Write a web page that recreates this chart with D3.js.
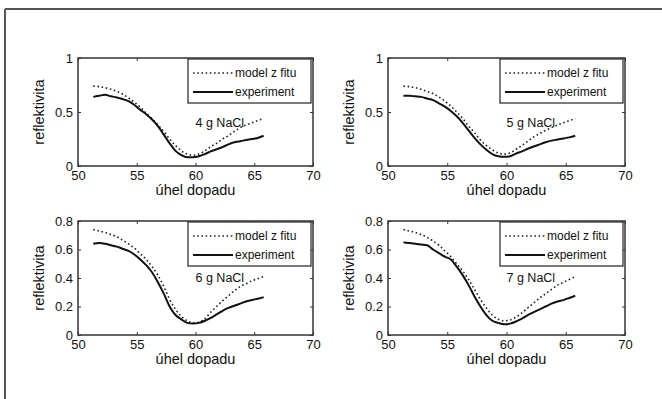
<!DOCTYPE html>
<html>
<head>
<meta charset="utf-8">
<script src="https://cdn.jsdelivr.net/npm/d3@7"></script>
<style>
  body { margin: 0; background: #fff; }
  svg text { font-family: "Liberation Sans", Arial, sans-serif; fill: #111; }
</style>
</head>
<body>
<script>
// angle of incidence (deg), shared by all four panels
var angles = [51.3, 51.8, 52.3, 52.8, 53.3, 53.8, 54.3, 54.8, 55.3, 55.8,
              56.3, 56.8, 57.3, 57.8, 58.3, 58.8, 59.3, 59.8, 60.3, 60.8,
              61.3, 61.8, 62.3, 62.8, 63.3, 63.8, 64.3, 64.8, 65.3, 65.8];

var model4 = [0.74, 0.735, 0.725, 0.71, 0.69, 0.665, 0.63, 0.59, 0.545, 0.49,
              0.44, 0.38, 0.32, 0.25, 0.19, 0.14, 0.11, 0.10, 0.11, 0.14,
              0.18, 0.21, 0.25, 0.28, 0.32, 0.355, 0.38, 0.40, 0.42, 0.44];
var exp4   = [0.64, 0.65, 0.66, 0.645, 0.635, 0.62, 0.60, 0.565, 0.52, 0.48,
              0.43, 0.37, 0.29, 0.21, 0.14, 0.10, 0.08, 0.08, 0.09, 0.11,
              0.135, 0.155, 0.175, 0.20, 0.22, 0.23, 0.24, 0.25, 0.26, 0.28];

var model5 = [0.74, 0.735, 0.725, 0.71, 0.69, 0.67, 0.64, 0.60, 0.555, 0.50,
              0.44, 0.37, 0.31, 0.24, 0.19, 0.15, 0.12, 0.11, 0.12, 0.155,
              0.19, 0.23, 0.27, 0.30, 0.33, 0.355, 0.38, 0.40, 0.42, 0.44];
var exp5   = [0.65, 0.65, 0.645, 0.64, 0.625, 0.61, 0.58, 0.55, 0.51, 0.46,
              0.40, 0.33, 0.26, 0.20, 0.15, 0.11, 0.09, 0.085, 0.09, 0.115,
              0.135, 0.16, 0.18, 0.20, 0.22, 0.235, 0.245, 0.255, 0.265, 0.28];

var model6 = [0.74, 0.73, 0.72, 0.705, 0.69, 0.665, 0.64, 0.61, 0.57, 0.53,
              0.48, 0.42, 0.34, 0.25, 0.18, 0.13, 0.10, 0.085, 0.09, 0.115,
              0.16, 0.20, 0.24, 0.275, 0.31, 0.34, 0.36, 0.38, 0.395, 0.41];
var exp6   = [0.64, 0.645, 0.64, 0.63, 0.62, 0.605, 0.59, 0.565, 0.53, 0.49,
              0.44, 0.37, 0.29, 0.20, 0.14, 0.11, 0.085, 0.08, 0.085, 0.10,
              0.12, 0.145, 0.17, 0.19, 0.205, 0.22, 0.235, 0.245, 0.255, 0.265];

var model7 = [0.74, 0.73, 0.72, 0.705, 0.685, 0.66, 0.63, 0.59, 0.55, 0.50,
              0.45, 0.39, 0.32, 0.25, 0.19, 0.14, 0.11, 0.10, 0.105, 0.125,
              0.155, 0.19, 0.225, 0.26, 0.29, 0.32, 0.35, 0.37, 0.39, 0.41];
var exp7   = [0.65, 0.645, 0.64, 0.635, 0.63, 0.60, 0.575, 0.55, 0.53, 0.48,
              0.42, 0.35, 0.27, 0.20, 0.14, 0.10, 0.085, 0.075, 0.08, 0.095,
              0.115, 0.14, 0.16, 0.18, 0.20, 0.22, 0.235, 0.245, 0.26, 0.275];

var xTicks = [50, 55, 60, 65, 70];
var yTicksTop = [0, 0.5, 1];
var yTicksBottom = [0, 0.2, 0.4, 0.6, 0.8];
var samples = ["4 g NaCl", "5 g NaCl", "6 g NaCl", "7 g NaCl"];
var legendLabels = ["model z fitu", "experiment"];
var xLabel = "úhel dopadu";
var yLabel = "reflektivita";

var width = 662, height = 399;

var svg = d3.select("body").append("svg")
  .attr("width", width)
  .attr("height", height);

// figure frame (only top and left edges are visible in the scan)
svg.append("line").attr("x1", 5).attr("y1", 9).attr("x2", width).attr("y2", 9)
  .attr("stroke", "#555").attr("stroke-width", 2);
svg.append("line").attr("x1", 5).attr("y1", 9).attr("x2", 5).attr("y2", height)
  .attr("stroke", "#555").attr("stroke-width", 2);

var panels = [
  {left: 78,  top: 58,  right: 313, bottom: 166, model: model4, exp: exp4, ymax: 1,   yt: yTicksTop,    fmt: d3.format("")},
  {left: 388, top: 58,  right: 625, bottom: 166, model: model5, exp: exp5, ymax: 1,   yt: yTicksTop,    fmt: d3.format("")},
  {left: 78,  top: 221, right: 313, bottom: 335, model: model6, exp: exp6, ymax: 0.8, yt: yTicksBottom, fmt: d3.format("")},
  {left: 388, top: 221, right: 625, bottom: 335, model: model7, exp: exp7, ymax: 0.8, yt: yTicksBottom, fmt: d3.format("")}
];

panels.forEach(function(p, i) {
  var x = d3.scaleLinear().domain([50, 70]).range([p.left, p.right]);
  var y = d3.scaleLinear().domain([0, p.ymax]).range([p.bottom, p.top]);
  var g = svg.append("g");

  g.append("rect")
    .attr("x", p.left).attr("y", p.top)
    .attr("width", p.right - p.left).attr("height", p.bottom - p.top)
    .attr("fill", "#fff");

  var line = d3.line()
    .x(function(d) { return x(d[0]); })
    .y(function(d) { return y(d[1]); })
    .curve(d3.curveMonotoneX);

  g.append("path")
    .attr("d", line(d3.zip(angles, p.model)))
    .attr("fill", "none").attr("stroke", "#222")
    .attr("stroke-width", 1.6).attr("stroke-dasharray", "1.6,2.6");

  g.append("path")
    .attr("d", line(d3.zip(angles, p.exp)))
    .attr("fill", "none").attr("stroke", "#111")
    .attr("stroke-width", 2);

  // axes, ticks pointing inward like matlab
  var bottomAxis = g.append("g").attr("transform", "translate(0," + p.bottom + ")")
    .call(d3.axisBottom(x).tickValues(xTicks).tickSizeInner(-3).tickSizeOuter(0).tickPadding(5));
  var leftAxis = g.append("g").attr("transform", "translate(" + p.left + ",0)")
    .call(d3.axisLeft(y).tickValues(p.yt).tickFormat(p.fmt).tickSizeInner(-3).tickSizeOuter(0).tickPadding(5));
  g.append("g").attr("transform", "translate(0," + p.top + ")")
    .call(d3.axisTop(x).tickValues(xTicks).tickSizeInner(-3).tickSizeOuter(0).tickFormat(""));
  g.append("g").attr("transform", "translate(" + p.right + ",0)")
    .call(d3.axisRight(y).tickValues(p.yt).tickSizeInner(-3).tickSizeOuter(0).tickFormat(""));

  g.selectAll(".domain").remove();
  g.selectAll(".tick line").attr("stroke", "#333");
  g.selectAll(".tick text").attr("font-size", 13).attr("fill", "#111");

  g.append("rect")
    .attr("x", p.left).attr("y", p.top)
    .attr("width", p.right - p.left).attr("height", p.bottom - p.top)
    .attr("fill", "none").attr("stroke", "#333").attr("stroke-width", 1.5);

  // sample label
  g.append("text")
    .attr("x", x(60)).attr("y", y(0.4))
    .attr("dy", "0.35em")
    .attr("font-size", 12.5)
    .text(samples[i]);

  // legend
  var lx = p.right - 125, ly = p.top + 1;
  var leg = g.append("g").attr("transform", "translate(" + lx + "," + ly + ")");
  leg.append("rect").attr("width", 123).attr("height", 44)
    .attr("fill", "#fff").attr("stroke", "#333").attr("stroke-width", 1.3);
  leg.append("line").attr("x1", 5).attr("x2", 45).attr("y1", 14).attr("y2", 14)
    .attr("stroke", "#222").attr("stroke-width", 1.6).attr("stroke-dasharray", "1.6,2.6");
  leg.append("line").attr("x1", 5).attr("x2", 45).attr("y1", 33).attr("y2", 33)
    .attr("stroke", "#111").attr("stroke-width", 2);
  leg.selectAll("text.lab").data(legendLabels).enter().append("text")
    .attr("class", "lab")
    .attr("x", 47).attr("y", function(d, k) { return k === 0 ? 14 : 33; })
    .attr("dy", "0.35em").attr("font-size", 12)
    .text(function(d) { return d; });

  // axis titles
  g.append("text")
    .attr("x", (p.left + p.right) / 2).attr("y", p.bottom + 29)
    .attr("text-anchor", "middle").attr("font-size", 14.5)
    .text(xLabel);
  g.append("text")
    .attr("transform", "translate(" + (p.left - 34) + "," + ((p.top + p.bottom) / 2) + ") rotate(-90)")
    .attr("text-anchor", "middle").attr("font-size", 14.5)
    .text(yLabel);
});
</script>
</body>
</html>
